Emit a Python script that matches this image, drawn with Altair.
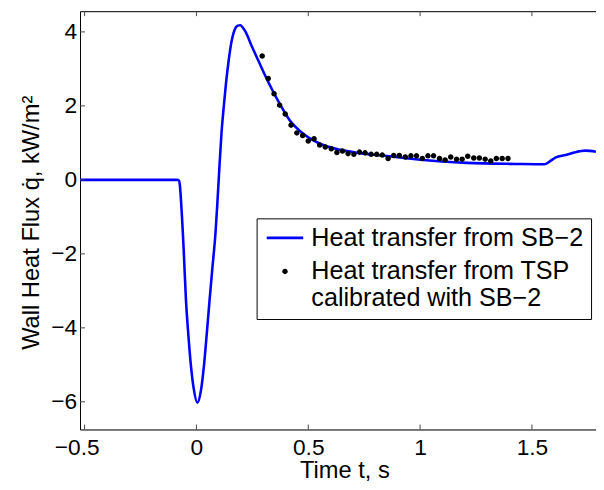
import altair as alt
import pandas as pd

# --- data ---
line_t = [-0.5205, -0.085, -0.078, -0.074, -0.069, -0.057, -0.047, -0.036, -0.025, -0.012,
          0.004, 0.02, 0.034, 0.047, 0.059, 0.071, 0.085, 0.093, 0.103, 0.112, 0.122, 0.132,
          0.144, 0.156, 0.171, 0.185, 0.196, 0.207, 0.218, 0.247, 0.277, 0.32, 0.372, 0.416,
          0.475, 0.548, 0.637, 0.725, 0.842, 0.99, 1.21, 1.43, 1.556, 1.58, 1.607, 1.651,
          1.695, 1.739, 1.786]
line_q = [0.0, 0.0, -0.02, -0.15, -0.56, -1.89, -3.23, -4.2, -5.0, -5.65,
          -6.02, -5.7, -5.0, -4.1, -3.23, -2.4, -1.45, -0.69, 0.37, 1.26, 1.97, 2.6,
          3.22, 3.71, 4.06, 4.17, 4.18, 4.12, 4.02, 3.62, 3.22, 2.66, 2.06, 1.62,
          1.26, 0.99, 0.82, 0.73, 0.65, 0.55, 0.46, 0.43, 0.42, 0.5, 0.61, 0.67,
          0.75, 0.79, 0.76]

tsp_t = [0.294, 0.321, 0.347, 0.372, 0.397, 0.423, 0.449, 0.475, 0.5, 0.526, 0.551,
         0.576, 0.603, 0.628, 0.653, 0.678, 0.704, 0.729, 0.754, 0.781, 0.806, 0.831,
         0.857, 0.882, 0.907, 0.934, 0.959, 0.984, 1.01, 1.035, 1.06, 1.087, 1.112,
         1.137, 1.163, 1.188, 1.213, 1.24, 1.265, 1.291, 1.316, 1.341, 1.367, 1.393]
tsp_q = [3.35, 2.74, 2.33, 2.02, 1.78, 1.48, 1.27, 1.20, 1.05, 1.11, 0.94,
         0.89, 0.84, 0.74, 0.78, 0.71, 0.69, 0.75, 0.73, 0.69, 0.69, 0.67,
         0.58, 0.66, 0.66, 0.62, 0.65, 0.65, 0.58, 0.65, 0.65, 0.58, 0.54,
         0.62, 0.56, 0.56, 0.64, 0.59, 0.59, 0.56, 0.51, 0.58, 0.58, 0.58]

x_ticks = [-0.5, 0, 0.5, 1, 1.5]
y_ticks = [-6, -4, -2, 0, 2, 4]
y_tick_labels = ["\u22126", "\u22124", "\u22122", "0", "2", "4"]
series_names = ["Heat transfer from SB\u22122", "Heat transfer from TSP|calibrated with SB\u22122"]

FONT = "Liberation Sans"
W, H = 523, 424
xscale = alt.Scale(domain=[-0.5205, 1.7865], nice=False, zero=False)
yscale = alt.Scale(domain=[-6.747, 4.56], nice=False, zero=False)

line_df = pd.DataFrame({"t": line_t, "q": line_q})
tsp_df = pd.DataFrame({"t": tsp_t, "q": tsp_q, "series": series_names[1]})
xt_df = pd.DataFrame({"v": x_ticks})
yt_df = pd.DataFrame({"v": y_ticks, "lab": y_tick_labels})

line = alt.Chart(line_df).mark_line(color="#0000FF", strokeWidth=2.6, interpolate="monotone", clip=True).encode(
    x=alt.X("t:Q", scale=xscale, axis=alt.Axis(
        orient="bottom", values=x_ticks, format="~g", title="Time t, s", ticks=False, tickSize=0,
        grid=False, domain=True, domainColor="black", domainWidth=1, labelFont=FONT, labelFontSize=23,
        labelColor="black", labelPadding=7,
        labelOffset={"condition": {"test": "datum.value < 0", "value": -8}, "value": 0},
        titleFont=FONT, titleFontSize=24, titleFontWeight="normal",
        titleColor="black", titlePadding=0, titleX=268, labelFlush=False)),
    y=alt.Y("q:Q", scale=yscale, axis=alt.Axis(
        orient="left", values=y_ticks, title="Wall Heat Flux q\u0307, kW/m\u00b2",
        ticks=False, tickSize=0, labels=False, grid=False, domain=True, domainColor="black",
        domainWidth=1, titleFont=FONT, titleFontSize=24, titleFontWeight="normal",
        titleColor="black", titlePadding=37, titleY=214)),
)

SYM = 400  # symbol area -> 20 px box
line_path = "M-1.85,0L1.85,0"
dot_path = "M0.15,0A0.15,0.15,0,1,1,-0.15,0A0.15,0.15,0,1,1,0.15,0Z"
leg = alt.Legend(title=None, orient="none", legendX=179, legendY=210, labelExpr="split(datum.label, '|')",
                 labelFont=FONT, labelFontSize=25.5, labelColor="black", labelLimit=0, labelOffset=14,
                 symbolOffset=9, padding=7, strokeColor="black", fillColor="white", symbolSize=SYM,
                 symbolStrokeWidth=2.6, symbolOpacity=1, rowPadding=7)
pts = alt.Chart(tsp_df).mark_point(filled=False, fill="black", size=SYM, strokeWidth=2.6, opacity=1).encode(
    x=alt.X("t:Q", scale=xscale, axis=None),
    y=alt.Y("q:Q", scale=yscale, axis=None),
    color=alt.Color("series:N", scale=alt.Scale(domain=series_names, range=["#0000FF", "black"]), legend=leg),
    shape=alt.Shape("series:N", scale=alt.Scale(domain=series_names, range=[line_path, dot_path]), legend=leg),
)

tick_color = "#444444"
xt_bottom = alt.Chart(xt_df).mark_rule(color=tick_color, strokeWidth=1).encode(
    x=alt.X("v:Q", scale=xscale, axis=None), y=alt.value(H), y2=alt.value(H - 5))
xt_top = alt.Chart(xt_df).mark_rule(color=tick_color, strokeWidth=1).encode(
    x=alt.X("v:Q", scale=xscale, axis=alt.Axis(orient="top", labels=False, ticks=False, title=None,
                                                grid=False, domain=True, domainColor="black",
                                                domainWidth=1)),
    y=alt.value(0), y2=alt.value(5))
yt_left = alt.Chart(yt_df).mark_rule(color=tick_color, strokeWidth=1).encode(
    y=alt.Y("v:Q", scale=yscale, axis=None), x=alt.value(0), x2=alt.value(5))
yt_labels = alt.Chart(yt_df).mark_text(align="right", baseline="middle", font=FONT, fontSize=23,
                                        color="black", dx=-3).encode(
    y=alt.Y("v:Q", scale=yscale, axis=None), x=alt.value(0), text="lab:N")

chart = alt.layer(line, pts, xt_bottom, xt_top, yt_left, yt_labels).resolve_axis(
    x="independent", y="independent"
).properties(
    width=W, height=H,
    padding={"left": 73, "top": 0, "right": 0, "bottom": 50},
    autosize=alt.AutoSizeParams(type="none"),
).configure_view(stroke=None).configure(background="white")

chart.save("out.html", embed_options={"renderer": "svg", "actions": False})
